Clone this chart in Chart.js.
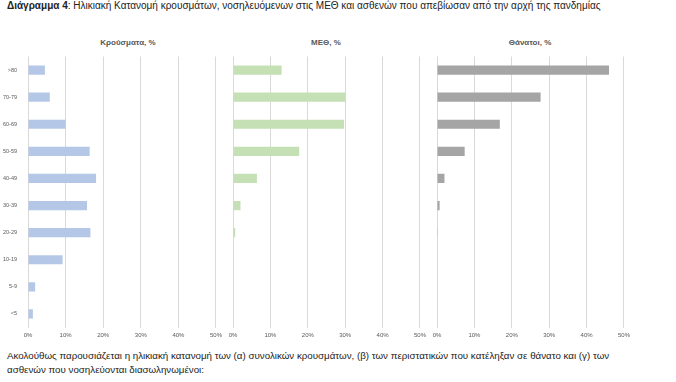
<!DOCTYPE html>
<html>
<head>
<meta charset="utf-8">
<script src="https://cdn.jsdelivr.net/npm/chart.js@4/dist/chart.umd.min.js"></script>
<style>
body{margin:0;width:676px;height:382px;background:#fff;position:relative;overflow:hidden;font-family:"Liberation Sans",Arial,sans-serif;}
.txt{position:absolute;left:7px;color:#222;font-size:10px;white-space:nowrap;}
.ttl{position:absolute;top:38px;font-size:8px;font-weight:bold;color:#595959;text-align:center;width:200px;}
.box{position:absolute;top:40px;height:310px;}
</style>
</head>
<body>
<div class="txt" style="top:0px;"><b>Διάγραμμα 4</b>: Ηλικιακή Κατανομή κρουσμάτων, νοσηλευόμενων στις ΜΕΘ και ασθενών που απεβίωσαν από την αρχή της πανδημίας</div>
<div class="ttl" style="left:28px;">Κρούσματα, %</div>
<div class="ttl" style="left:226px;">ΜΕΘ, %</div>
<div class="ttl" style="left:430px;">Θάνατοι, %</div>
<div class="box" style="left:0;width:226px;"><canvas id="g1"></canvas></div>
<div class="box" style="left:220px;width:210px;"><canvas id="g2"></canvas></div>
<div class="box" style="left:420px;width:214px;"><canvas id="g3"></canvas></div>
<div class="txt" style="top:350px;font-size:9.75px;">Ακολούθως παρουσιάζεται η ηλικιακή κατανομή των (α) συνολικών κρουσμάτων, (β) των περιστατικών που κατέληξαν σε θάνατο και (γ) των</div>
<div class="txt" style="top:364px;font-size:9.75px;">ασθενών που νοσηλεύονται διασωληνωμένοι:</div>
<script>
// ομάδες ηλικιών
var ηλικιες = ['>80','70-79','60-69','50-59','40-49','30-39','20-29','10-19','5-9','<5'];
// τιμές %
var krousmata = [4.5, 5.8, 10.0, 16.4, 18.1, 15.7, 16.6, 9.2, 1.9, 1.3];
var meth = [13.0, 30.0, 29.7, 17.7, 6.4, 2.0, 0.6, 0.1, 0, 0];
var thanatoi = [46.0, 27.7, 16.8, 7.4, 2.0, 0.7, 0.1, 0, 0, 0];
var xTicks = [0, 10, 20, 30, 40, 50];

function Grafico(id, datos, color, anchoY, padIzq, padDer){
	return new Chart(id, {
		type: 'bar',
		data: {
			labels: ηλικιες,
			datasets: [{
				data: datos,
				backgroundColor: color,
				barPercentage: 0.34,
				categoryPercentage: 1
			}]
		},
		options: {
			indexAxis: 'y',
			responsive: true,
			maintainAspectRatio: false,
			animation: false,
			layout: {autoPadding: false, padding: {left: padIzq, right: padDer, top: 16.5, bottom: 0}},
			plugins: {legend: {display: false}, tooltip: {enabled: false}},
			scales: {
				x: {
					min: 0, max: 50,
					afterBuildTicks: function(s){ s.ticks = xTicks.map(function(v){ return {value: v}; }); },
					afterFit: function(s){ s.height = 22.5; },
					grid: {color: '#d9d9d9', drawTicks: false},
					border: {display: false},
					ticks: {padding: 4, color: '#595959', font: {size: 6, family: 'Liberation Sans'}, callback: function(v){ return v + '%'; }}
				},
				y: {
					display: anchoY > 0,
					afterFit: function(s){ s.width = anchoY; },
					grid: {display: false},
					border: {display: false},
					ticks: {color: '#595959', font: {size: 5.5, family: 'Liberation Sans'}, padding: 3}
				}
			}
		}
	});
}

Grafico('g1', krousmata, '#b4c7e7', 28, 0, 9);
Grafico('g2', meth, '#c5e0b4', 0, 13, 10);
Grafico('g3', thanatoi, '#a5a5a5', 0, 17, 10);
</script>
</body>
</html>
